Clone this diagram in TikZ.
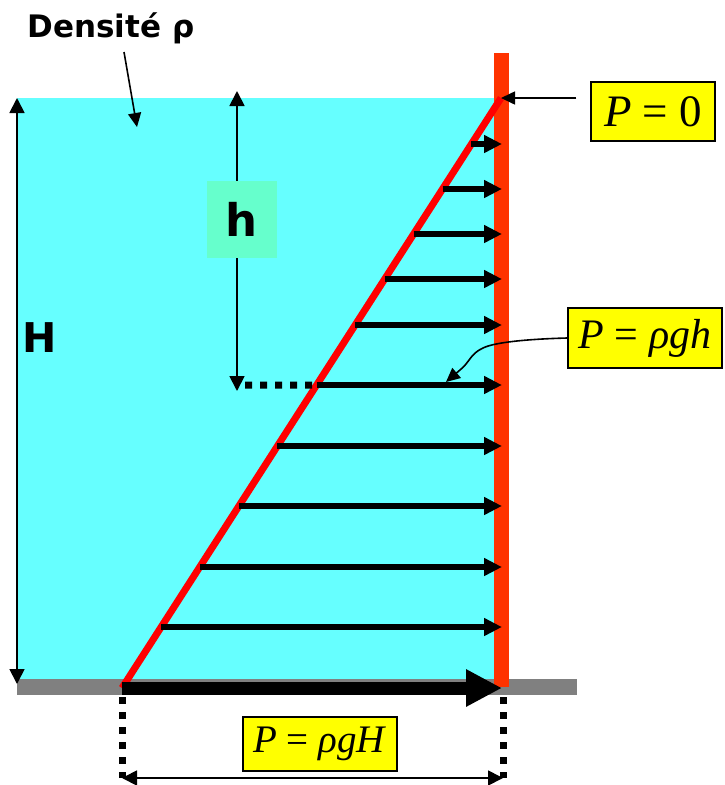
\documentclass[tikz,border=0pt]{standalone}
\usepackage{fontspec}
\usetikzlibrary{arrows.meta,calc,positioning}
\newfontfamily\labfont{DejaVu Sans}
\newfontfamily\timesfont{Liberation Serif}
\definecolor{water}{HTML}{66FFFF}
\definecolor{wallred}{HTML}{FF3300}
\definecolor{linered}{HTML}{FF0000}
\definecolor{floorgray}{HTML}{808080}
\definecolor{boxyellow}{HTML}{FFFF00}
\definecolor{hgreen}{HTML}{66FFCC}
\tikzset{press/.style={-{Triangle[length=18pt,width=17pt]}, line width=6pt}, thrust/.style={-{Triangle[length=36pt,width=35pt]}, line width=13pt}, dimen/.style={{Triangle[length=15pt,width=15pt]}-{Triangle[length=15pt,width=15pt]}, line width=1.8pt}, ptr/.style={-{Triangle[length=14pt,width=13pt]}, line width=1.6pt}, dots/.style={line width=7pt, dash pattern=on 7pt off 8pt}, eqbox/.style={draw=black, line width=1.5pt, fill=boxyellow, inner sep=0pt, font=\timesfont\fontsize{#1}{#1}\selectfont}, lab/.style={inner sep=0pt, font=\labfont\bfseries\fontsize{#1}{#1}\selectfont}}

\begin{document}
\begin{tikzpicture}[x=1pt,y=-1pt]
\useasboundingbox (0,0) rectangle (724,785);
\coordinate (toe) at (122,688); \coordinate (crest) at (501,98); \coordinate (face) at (502,0);
\fill[water] (17,98) rectangle (500,683); \fill[floorgray] (17,679) rectangle (577,695); \fill[wallred] (494,53) rectangle (509,687);
\draw[linered, line width=7pt] (toe) -- (crest);
\foreach \y in {144,189,234,279,325,385,446,506,567,627}{\coordinate (s\y) at ($(toe)!{(688-\y)/590}!(crest)$); \draw[press] (s\y) -- (s\y -| face);}
\draw[thrust] (toe) -- (toe -| face);
\coordinate (Htop) at (17,98); \coordinate (Hbot) at (17,684); \draw[dimen] (Hbot) -- (Htop); \node[lab=41, anchor=base] (Hlab) at (40,352) {H};
\coordinate (htop) at (237,91); \coordinate (hbot) at (237,391); \draw[dimen] (htop) -- (hbot);
\node[lab=45, fill=hgreen, minimum width=70pt, minimum height=77pt] (hlab) at (242,219.5) {h};
\coordinate (hlevel) at (245,385); \draw[dots] (hlevel) -- (s385);
\coordinate (tl) at (122,697); \coordinate (bl) at (122,778); \coordinate (tr) at (503,697); \coordinate (br) at (503,778);
\draw[dots] (tl) -- (bl); \draw[dots] (tr) -- (br); \draw[dimen] (bl) -- (br);
\node[lab=31, anchor=base] (dens) at (111,37) {Densité ρ};
\coordinate (dtail) at (124,52); \coordinate (dtip) at (137,127); \draw[ptr] (dtail) -- (dtip);
\node[eqbox=45, minimum width=124pt, minimum height=59pt] (pzero) at (653,111.5) {\textit{P} = 0};
\node[eqbox=42, minimum width=154pt, minimum height=60pt] (prgh) at (645,338) {\textit{P} = \textit{ρgh}};
\node[eqbox=39, minimum width=154pt, minimum height=54pt] (prgH) at (320,744) {\textit{P} = \textit{ρgH}};
\draw[ptr, shorten <=14pt] (pzero.west |- crest) -- (crest);
\coordinate (hmark) at (446,382);
\draw[ptr] (prgh.west) .. controls (530,339) and (495,342) .. (483,348) .. controls (470,354) and (470,362) .. (460,370) -- (hmark);
\end{tikzpicture}
\end{document}
